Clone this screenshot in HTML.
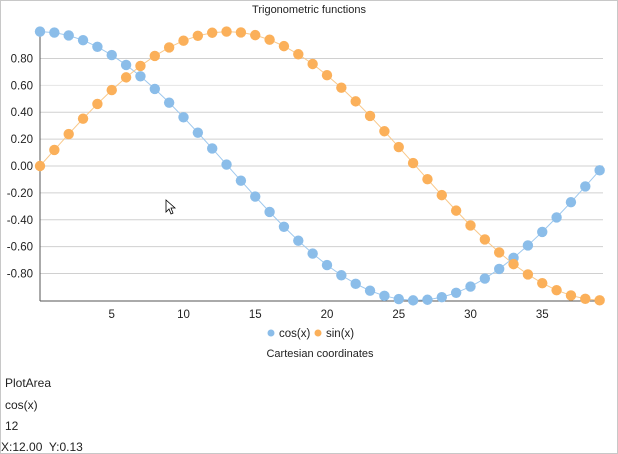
<!DOCTYPE html>
<html><head><meta charset="utf-8"><style>
html,body{margin:0;padding:0;background:#fff;}
body{width:618px;height:454px;position:relative;overflow:hidden;font-family:"Liberation Sans",sans-serif;}
.frame{position:absolute;left:0;top:0;width:616px;height:452px;border:1px solid #c8c8c8;}
.t{position:absolute;font-size:12px;color:#222;white-space:nowrap;}
</style></head><body>
<div class="frame"></div>
<svg id="s" width="618" height="454" style="position:absolute;left:0;top:0" font-family="Liberation Sans, sans-serif" font-size="11.5" fill="#222"></svg>
<div class="t" style="left:0;width:618px;text-align:center;top:4px;font-size:11px">Trigonometric functions</div>
<div class="t" style="left:0;width:640px;text-align:center;top:348px;font-size:11px">Cartesian coordinates</div>
<div class="t" style="left:5px;top:376px">PlotArea</div>
<div class="t" style="left:5px;top:398px">cos(x)</div>
<div class="t" style="left:5px;top:419px">12</div>
<div class="t" style="left:1px;top:440px">X:12.00&nbsp; Y:0.13</div>
<script>
var s=document.getElementById('s'),h='';
var X=function(i){return 40+i*14.35;},Y=function(v){return 166-v*134.4;};
for(var k=-4;k<=4;k++){var y=Y(k*0.2);
 h+='<line x1="40" x2="603" y1="'+y+'" y2="'+y+'" stroke="'+(k==3?'#e4e4e4':'#d0d0d0')+'" stroke-width="1"/>';
 h+='<text x="33" y="'+(y+4)+'" text-anchor="end">'+(k*0.2).toFixed(2).replace('-0.00','0.00')+'</text>';}
h+='<line x1="40" y1="32" x2="40" y2="301" stroke="#555"/><line x1="40" y1="301" x2="603" y2="301" stroke="#555"/>';
for(var t=5;t<=35;t+=5)h+='<text x="'+X(t)+'" y="318" text-anchor="middle">'+t+'</text>';
var c=[],sn=[];for(var i=0;i<40;i++){c.push(X(i)+','+Y(Math.cos(i*0.12)));sn.push(X(i)+','+Y(Math.sin(i*0.12)));}
h+='<polyline points="'+c.join(' ')+'" fill="none" stroke="#9ec8ee" stroke-width="1"/>';
h+='<polyline points="'+sn.join(' ')+'" fill="none" stroke="#f9c88a" stroke-width="1"/>';
c.forEach(function(p){p=p.split(',');h+='<circle cx="'+p[0]+'" cy="'+p[1]+'" r="5.2" fill="#8bbde9"/>';});
sn.forEach(function(p){p=p.split(',');h+='<circle cx="'+p[0]+'" cy="'+p[1]+'" r="5.2" fill="#fbb05a"/>';});
h+='<circle cx="271" cy="333" r="3.5" fill="#8bbde9"/><text x="279" y="337">cos(x)</text>';
h+='<circle cx="318" cy="333" r="3.5" fill="#fbb05a"/><text x="326" y="337">sin(x)</text>';
h+='<path d="M166,200 L166,212 L169,209 L171,214 L173,213 L171,208 L175,208 Z" fill="#fff" stroke="#000" stroke-width="0.8"/>';
s.innerHTML=h;
</script>
</body></html>
